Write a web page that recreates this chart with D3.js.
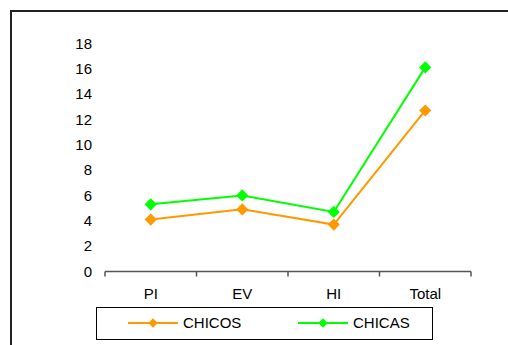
<!DOCTYPE html>
<html>
<head>
<meta charset="utf-8">
<script src="https://cdn.jsdelivr.net/npm/d3@7"></script>
<style>
  body { margin: 0; background: #fff; }
  text { font-family: "Liberation Sans", Arial, sans-serif; fill: #000; }
</style>
</head>
<body>
<svg id="chart" width="508" height="345"></svg>
<script>
const categories = ["PI", "EV", "HI", "Total"];
const chicos = [4.1, 4.9, 3.7, 12.7];
const chicas = [5.3, 6.0, 4.7, 16.1];
const yTicks = [0, 2, 4, 6, 8, 10, 12, 14, 16, 18];
const seriesNames = ["CHICOS", "CHICAS"];
const seriesColors = ["#ff9900", "#00ff00"];

const svg = d3.select("#chart");

// outer frame, cut off on the right and bottom
svg.append("rect")
    .attr("x", 11).attr("y", 11)
    .attr("width", 520).attr("height", 360)
    .attr("fill", "none")
    .attr("stroke", "#222")
    .attr("stroke-width", 2);

const plot = {left: 105, right: 471, top: 43.3, bottom: 271.5};

const xScale = d3.scaleBand()
    .domain(categories)
    .range([plot.left, plot.right]);

const yScale = d3.scaleLinear()
    .domain([0, 18])
    .range([plot.bottom, plot.top]);

// y labels only, no axis line
const yAxisG = svg.append("g")
    .attr("transform", `translate(${plot.left},0)`)
    .call(d3.axisLeft(yScale).tickValues(yTicks).tickSize(0).tickPadding(13));
yAxisG.select(".domain").remove();
yAxisG.selectAll("text")
    .style("font-size", "15px")
    .style("font-family", "Liberation Sans, Arial, sans-serif");

// x axis with ticks at band edges
const xAxisG = svg.append("g")
    .attr("transform", `translate(0,${plot.bottom})`);
xAxisG.append("line")
    .attr("x1", plot.left).attr("x2", plot.right)
    .attr("stroke", "#555").attr("stroke-width", 1.5);
const edges = categories.map(c => xScale(c)).concat([plot.right]);
xAxisG.selectAll(".tk")
    .data(edges)
    .enter().append("line")
    .attr("x1", d => d).attr("x2", d => d)
    .attr("y1", 0).attr("y2", 5)
    .attr("stroke", "#555").attr("stroke-width", 1.5);
xAxisG.selectAll(".lbl")
    .data(categories)
    .enter().append("text")
    .attr("x", d => xScale(d) + xScale.bandwidth() / 2)
    .attr("y", 27)
    .attr("text-anchor", "middle")
    .style("font-size", "15px")
    .text(d => d);

const diamond = d3.symbol().type(d3.symbolDiamond2).size(95);

const line = d3.line()
    .x((d, i) => xScale(categories[i]) + xScale.bandwidth() / 2)
    .y(d => yScale(d));

[chicos, chicas].forEach((vals, s) => {
    svg.append("path")
        .datum(vals)
        .attr("d", line)
        .attr("fill", "none")
        .attr("stroke", seriesColors[s])
        .attr("stroke-width", 2);
    svg.selectAll(".m" + s)
        .data(vals)
        .enter().append("path")
        .attr("d", diamond)
        .attr("transform", (d, i) => `translate(${xScale(categories[i]) + xScale.bandwidth() / 2},${yScale(d)})`)
        .attr("fill", seriesColors[s]);
});

// legend
const legend = svg.append("g");
legend.append("rect")
    .attr("x", 96.5).attr("y", 307.5)
    .attr("width", 336).attr("height", 32)
    .attr("fill", "#fff")
    .attr("stroke", "#000").attr("stroke-width", 1);

const legendX = [128, 298];
seriesNames.forEach((name, s) => {
    const g = legend.append("g").attr("transform", `translate(${legendX[s]},323)`);
    g.append("line")
        .attr("x1", 0).attr("x2", 50)
        .attr("stroke", seriesColors[s]).attr("stroke-width", 2);
    g.append("path")
        .attr("d", d3.symbol().type(d3.symbolDiamond2).size(55))
        .attr("transform", "translate(25,0)")
        .attr("fill", seriesColors[s]);
    g.append("text")
        .attr("x", 55).attr("y", 5)
        .style("font-size", "15px")
        .text(name);
});
</script>
</body>
</html>
